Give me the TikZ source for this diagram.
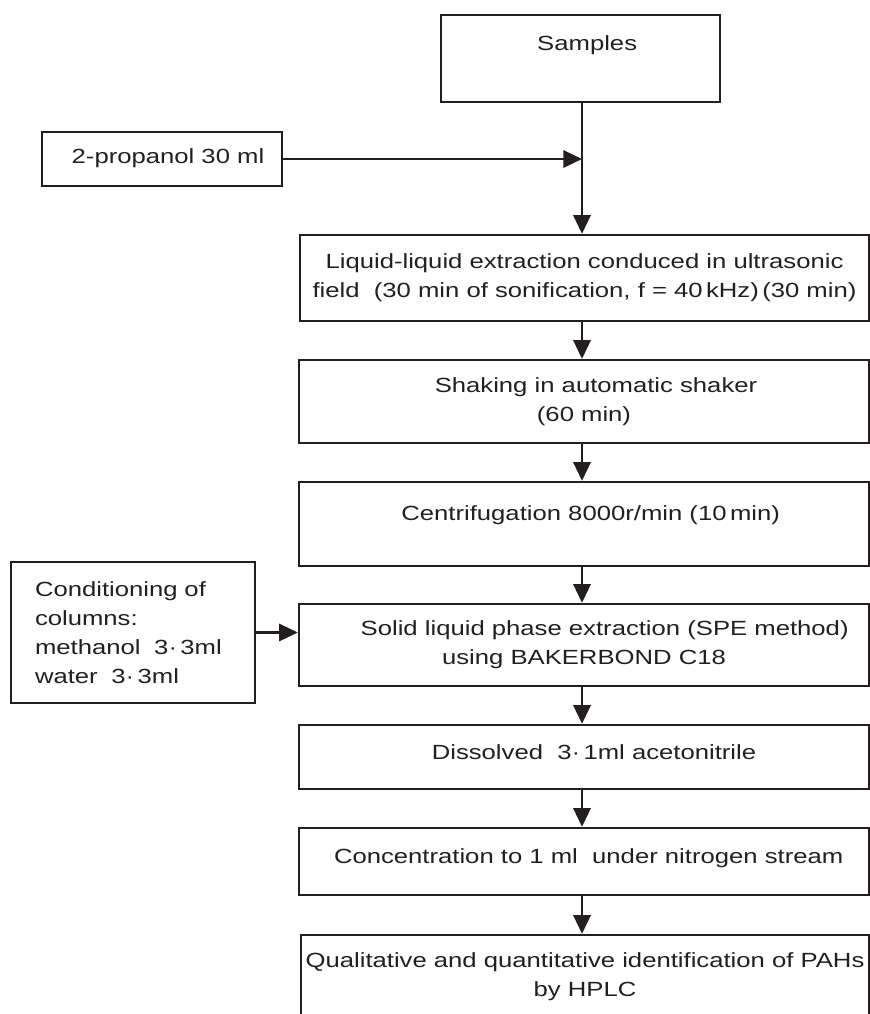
\documentclass[tikz,border=0pt]{standalone}
\usepackage{fontspec}
\setmainfont[FakeStretch=1.25]{Liberation Sans}
\usetikzlibrary{arrows.meta}
\definecolor{ink}{HTML}{231F20}

\begin{document}
\begin{tikzpicture}[x=0.75pt, y=-0.75pt,
  box/.style={draw=ink, line width=1.8pt, text=ink, inner sep=0pt, align=center,
    font=\fontsize{15.4}{21.75}\selectfont},
  flow/.style={draw=ink, line width=1.6pt, -{Triangle[length=14pt, width=13pt]}}]

\clip (0,0) rectangle (870,1014);

% Spine of the chart
\coordinate (spine) at (582,0);

% Side boxes
\node[box, minimum width=180pt, minimum height=40.5pt, text height=12pt, text depth=6pt]
  (propanol) at (162,159) {\hspace*{9pt}2-propanol 30 ml};
\node[box, minimum width=183pt, minimum height=105.75pt, text width=147pt, align=left]
  (cond) at (133,632.5) {Conditioning of\\columns:\\methanol\ \ 3·\,3ml\\water\ \ 3·\,3ml};

% Main boxes
\node[box, minimum width=209.25pt, minimum height=65.25pt, text height=12pt, text depth=24.75pt]
  (samples) at (580.5,58.5) {\hspace*{10pt}Samples};
\node[box, minimum width=426.75pt, minimum height=64.5pt]
  (liquid) at (584.5,278) {Liquid-liquid extraction conduced in ultrasonic\\field\ \ (30 min of sonification, f = 40\,kHz)\,(30 min)};
\node[box, minimum width=427.5pt, minimum height=62.25pt]
  (shaking) at (584,401.5) {\hspace*{18pt}Shaking in automatic shaker\\(60 min)};
\node[box, minimum width=427.5pt, minimum height=63pt, text height=12pt, text depth=18pt]
  (centri) at (584,524) {\hspace*{10pt}Centrifugation 8000r/min (10\,min)};
\node[box, minimum width=427.5pt, minimum height=61.5pt]
  (spe) at (584,645) {\hspace*{31pt}Solid liquid phase extraction (SPE method)\\using BAKERBOND C18};
\node[box, minimum width=427.5pt, minimum height=48pt, text height=12pt, text depth=9pt]
  (dissolved) at (584,757) {\hspace*{15pt}Dissolved\ \ 3·\,1ml acetonitrile};
\node[box, minimum width=427.5pt, minimum height=50.25pt, text height=12pt, text depth=9.75pt]
  (conc) at (584,861.5) {\hspace*{7pt}Concentration to 1 ml\ \ under nitrogen stream};
\node[box, minimum width=426pt, minimum height=62.25pt]
  (qual) at (585,976.5) {Qualitative and quantitative identification of PAHs\\by HPLC};

% Arrows
\draw[flow] (samples.south -| spine) -- (liquid.north -| spine);
\draw[flow] (propanol.east) -- (propanol.east -| spine);
\draw[flow] (cond.east) -- (cond.east -| spe.west);
\foreach \i/\j in {liquid/shaking, shaking/centri, centri/spe, spe/dissolved, dissolved/conc, conc/qual} {
  \draw[flow] (\i.south -| spine) -- (\j.north -| spine);
}

\end{tikzpicture}
\end{document}
